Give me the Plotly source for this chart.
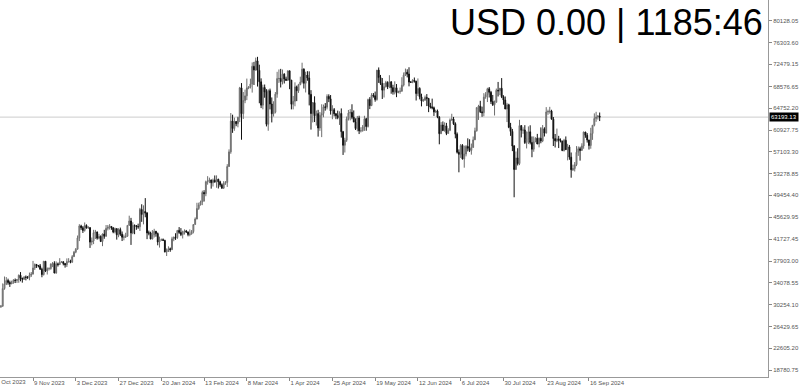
import pandas as pd
import plotly.graph_objects as go

start_date = "2023-10-21"
first_open = 29670

closes = [
    29910, 29990, 33090, 33900, 34500, 34150, 33900, 34090, 34540, 34500, 34650,
    35420, 34940, 34730, 35080, 35050, 35040, 35420, 35630, 36700, 37310, 37130, 37070, 36490, 35550, 37880, 36160, 36590, 36590, 37390, 37480, 35810, 37420, 37290, 37720, 37800, 37480, 37250, 37830, 37860, 37710,
    38690, 39470, 39980, 41980, 44080, 43770, 43290, 44170, 43720, 43790, 41240, 41450, 42890, 43020, 41930, 42240, 41360, 42660, 42270, 43650, 43870, 43990, 43740, 43020, 43610, 42520, 43440, 42630, 42100, 42140, 42280,
    44180, 44950, 42850, 44180, 44160, 43970, 43930, 46970, 46110, 46630, 46370, 42850, 42840, 41800, 42510, 43150, 42740, 41260, 41620, 41670, 41540, 39510, 39850, 40080, 39930, 41820, 42120, 42030, 43300, 42940, 42580,
    43080, 43190, 43010, 42580, 42660, 43090, 44330, 45300, 47150, 47770, 48290, 49960, 49740, 51830, 51940, 52160, 51660, 52120, 51780, 52280, 51840, 51300, 50730, 51570, 51730, 54520, 57090, 62500, 61200,
    62440, 62030, 63170, 68330, 63800, 66110, 66930, 68300, 68500, 69020, 72120, 71480, 73080, 71400, 69400, 65300, 68390, 67610, 61930, 67840, 65500, 63780, 64060, 67230, 69960, 69990, 69450, 70740, 69890, 69650, 71330,
    69700, 65450, 65980, 68510, 67840, 68900, 69360, 71620, 69140, 70590, 70060, 67190, 63820, 65740, 63430, 63810, 61280, 63510, 63840, 64990, 64930, 66840, 66410, 64280, 64500, 63770, 63460, 63120, 63840, 60640,
    58250, 59120, 62890, 63890, 64030, 63160, 62330, 61190, 63050, 60790, 60800, 61460, 62900, 61550, 66270, 65230, 67050, 66940, 66280, 71450, 70140, 69120, 67930, 68530, 69270, 68520, 69390, 68370, 67630, 68350, 67490,
    67710, 67750, 68800, 70570, 71080, 70760, 69340, 69310, 69650, 69510, 67320, 68240, 66750, 66010, 66190, 66640, 66490, 65150, 64960, 64830, 64100, 64250, 63180, 60280, 61800, 60860, 61670, 60320, 60880, 62680,
    62850, 62030, 60200, 57030, 56660, 58230, 55850, 56710, 58050, 57720, 57340, 57880, 59200, 60790, 64870, 65100, 64120, 63970, 66710, 67160, 68170, 67550, 65930, 65370, 65800, 67910, 67810, 68260, 66780, 66190, 64620,
    65360, 61410, 60680, 58120, 53990, 56030, 55030, 61710, 60880, 60940, 58720, 59350, 60610, 58740, 57560, 58870, 59480, 58480, 59490, 59010, 61160, 60380, 64090, 64180, 64250, 62830, 59420, 59030, 59380, 59120, 58970,
    57320, 59120, 57480, 57970, 56160, 53950, 54150, 54840, 57020, 57640, 57340, 58130, 60570, 60010, 59180, 58210, 60310, 61760, 62950, 63200, 63350, 63193.13,
]

highs = [
    30330, 30200, 33990, 35200, 35100, 34820, 34480, 34470, 34740, 34850, 34720,
    35560, 35980, 34940, 35260, 35380, 35290, 35890, 35990, 37940, 37500, 37410, 37230, 37400, 36750, 37930, 37900, 36790, 36820, 37510, 37750, 37880, 37850, 37640, 38420, 37890, 37830, 37560, 38380, 38420, 38150,
    38960, 39690, 40200, 42400, 44390, 44290, 44050, 44690, 44360, 44050, 43820, 42050, 43400, 43390, 43090, 42700, 42420, 42750, 43400, 44240, 44250, 44400, 43990, 43900, 43780, 43600, 43680, 43790, 43110, 42580, 42880,
    44180, 45880, 45500, 44730, 44340, 44200, 44480, 47250, 47890, 47700, 48970, 46500, 43260, 43070, 43350, 43580, 43200, 42930, 42200, 41870, 41880, 41650, 40130, 40500, 40280, 42180, 42200, 42800, 43300, 43880, 43700,
    43250, 43480, 43380, 43100, 43480, 43360, 44370, 45580, 48150, 48170, 48530, 50280, 50360, 52040, 52820, 52570, 52200, 52400, 52950, 52960, 52370, 52020, 51540, 51950, 51950, 54930, 57530, 63910, 63620,
    63100, 62450, 63240, 68500, 69170, 67600, 68030, 69960, 68600, 69950, 72800, 72890, 73650, 73780, 72400, 70000, 68890, 68920, 68100, 68070, 68200, 66650, 65980, 67600, 71150, 71560, 71670, 71550, 70900, 70300, 71330,
    71340, 69670, 66910, 69300, 68730, 69040, 70300, 72750, 71760, 71170, 71260, 71230, 67930, 65840, 66850, 64350, 64470, 64100, 65450, 65400, 65660, 67200, 67200, 67070, 65280, 64790, 63920, 64330, 64210, 64720,
    60770, 59570, 63290, 64450, 64610, 65450, 64370, 62980, 63400, 63440, 61410, 61800, 63430, 63070, 66440, 66700, 67400, 67420, 67680, 71450, 71920, 70600, 70060, 69170, 69560, 69490, 70550, 69500, 68880, 69480, 69000,
    67840, 68380, 70200, 71040, 71720, 71590, 71950, 69520, 69850, 70150, 69560, 69990, 68430, 67310, 66410, 66980, 67240, 66480, 65700, 66440, 65050, 64510, 64520, 63360, 62320, 62440, 62280, 62180, 61240, 62960,
    63780, 63230, 62280, 60500, 57520, 58470, 58450, 58180, 58280, 59470, 59300, 58550, 59790, 61340, 64870, 65350, 66060, 65030, 67400, 67580, 68350, 68480, 67800, 67090, 66100, 68210, 69370, 68310, 70050, 67040, 66820,
    65700, 65540, 62180, 61120, 58280, 57150, 57730, 62720, 61720, 61420, 61780, 60680, 61560, 61760, 59800, 59800, 59650, 60250, 59600, 61390, 61800, 61410, 64950, 64500, 65000, 64480, 63210, 60230, 61180, 59900, 59450,
    59050, 59380, 59800, 58500, 58300, 56980, 54840, 55300, 58100, 58040, 57990, 58600, 60650, 60610, 60390, 59210, 61320, 61790, 63850, 64130, 63560, 64000,
]

lows = [
    29470, 29680, 29880, 32880, 33700, 33760, 33370, 33880, 33940, 34050, 34070,
    34100, 34360, 34120, 34590, 34520, 34770, 34540, 35120, 35550, 36350, 36710, 36790, 36350, 35070, 35370, 35980, 35550, 36270, 36390, 36850, 35770, 35700, 36950, 37270, 37610, 37160, 36760, 36870, 37620, 37520,
    37630, 38650, 39290, 39970, 41420, 43390, 42850, 43080, 43620, 43580, 40220, 40680, 40890, 41790, 41670, 41730, 41250, 40530, 41830, 42210, 43300, 43440, 43400, 42800, 42770, 41680, 42100, 42330, 41430, 41560, 41970,
    42190, 44150, 40750, 42630, 42630, 43400, 43580, 43200, 44800, 44360, 45600, 41760, 42440, 41720, 41720, 42050, 42190, 40680, 40280, 41450, 41520, 39450, 38800, 39500, 39540, 39830, 41400, 41630, 41810, 42690, 42300,
    41880, 42570, 42880, 42260, 42270, 42570, 42780, 44330, 45250, 46900, 47680, 47730, 48370, 49300, 51330, 51600, 50630, 51010, 51710, 50790, 50660, 50950, 50580, 50580, 51300, 50930, 54460, 56760, 60430,
    60800, 61600, 61400, 62320, 59220, 62870, 65640, 66180, 68100, 68220, 67500, 68840, 71340, 68560, 65630, 64780, 64560, 66600, 61560, 60800, 64550, 62260, 63290, 63850, 66600, 69200, 68400, 68930, 69100, 69560, 69570,
    68100, 64550, 64550, 65100, 66000, 67450, 68800, 69100, 68220, 67520, 69580, 65250, 61000, 62260, 62330, 61710, 59770, 60780, 59680, 63170, 64330, 64550, 65830, 63640, 62820, 63330, 62830, 62820, 61820, 59590,
    56550, 56980, 58850, 62600, 62620, 62820, 62320, 60930, 60690, 60220, 60500, 60650, 60780, 60800, 61370, 64600, 65120, 66620, 65900, 66080, 69200, 68850, 66380, 66640, 68400, 68120, 68280, 67300, 67140, 67180, 66700,
    67390, 67300, 67650, 68570, 70410, 70170, 68600, 69220, 69150, 69250, 66110, 66910, 66310, 65080, 65890, 66040, 65130, 64070, 64700, 64560, 63400, 63960, 63000, 58420, 60270, 60720, 60630, 60030, 60370, 60730,
    62550, 61820, 59470, 56800, 53500, 56030, 55750, 54310, 56300, 57170, 57060, 56600, 57770, 59240, 60650, 62700, 63920, 63250, 63330, 66420, 65840, 66640, 65500, 65150, 63480, 65750, 66820, 67060, 66530, 65380, 64600,
    62320, 61250, 59900, 57220, 49120, 53970, 54700, 54760, 59630, 60270, 58480, 57690, 58460, 58410, 56150, 57110, 58800, 58450, 57880, 58600, 58800, 59790, 60360, 63600, 63800, 62800, 58120, 57860, 58790, 57760, 58750,
    57220, 57150, 57420, 55600, 55700, 52550, 53740, 53650, 54590, 56390, 55550, 57330, 57640, 59560, 58720, 57500, 57640, 59200, 61570, 62370, 62760, 62500,
]

y_tick_values = [80128.05, 76303.60, 72479.15, 68576.65, 64752.20, 60927.75, 57103.30,
                 53278.85, 49454.40, 45629.95, 41727.45, 37903.00, 34078.55, 30254.10,
                 26429.65, 22605.20, 18780.75]
x_tick_dates = ["2023-11-09", "2023-12-03", "2023-12-27", "2024-01-20", "2024-02-13",
                "2024-03-08", "2024-04-01", "2024-04-25", "2024-05-19", "2024-06-12",
                "2024-07-06", "2024-07-30", "2024-08-23", "2024-09-16"]
x_tick_labels = ["9 Nov 2023", "3 Dec 2023", "27 Dec 2023", "20 Jan 2024", "13 Feb 2024",
                 "8 Mar 2024", "1 Apr 2024", "25 Apr 2024", "19 May 2024", "12 Jun 2024",
                 "6 Jul 2024", "30 Jul 2024", "23 Aug 2024", "16 Sep 2024"]
first_tick_date = "2023-10-16"
first_tick_label = "16 Oct 2023"
title_text = "USD 0.00 | 1185:46"

assert len(closes) == len(highs) == len(lows)
opens = [first_open] + closes[:-1]
dates = pd.date_range(start_date, periods=len(closes), freq="D")
highs_c = [max(h, o, c) for h, o, c in zip(highs, opens, closes)]
lows_c = [min(l, o, c) for l, o, c in zip(lows, opens, closes)]

x_range = [pd.Timestamp("2023-10-21 11:30"), pd.Timestamp("2024-12-25 11:00")]
y_range = [17551, 83763]
last_price = closes[-1]

fig = go.Figure(go.Candlestick(
    x=dates, open=opens, high=highs_c, low=lows_c, close=closes,
    increasing=dict(line=dict(color="#6e6e6e", width=1), fillcolor="#a8a8a8"),
    decreasing=dict(line=dict(color="#111111", width=1), fillcolor="#111111"),
    whiskerwidth=0, hoverinfo="skip",
))

axis_font = dict(family="Liberation Sans, Arial, sans-serif", size=6, color="#555555")

fig.update_layout(
    width=800, height=388,
    margin=dict(l=0, r=32, t=0, b=11),
    paper_bgcolor="white", plot_bgcolor="white",
    showlegend=False,
    xaxis=dict(
        type="date", range=x_range, rangeslider=dict(visible=False), automargin=False,
        showgrid=False, zeroline=False, showline=True, linecolor="#999999", linewidth=1,
        ticks="outside", ticklen=3, tickcolor="#888888", tickangle=0,
        tickmode="array", tickvals=x_tick_dates, ticktext=x_tick_labels,
        ticklabelposition="outside right", tickfont=axis_font,
    ),
    yaxis=dict(
        side="right", range=y_range, automargin=False,
        showgrid=False, zeroline=False, showline=True, linecolor="#999999", linewidth=1,
        ticks="outside", ticklen=3, tickcolor="#888888",
        tickmode="array", tickvals=y_tick_values,
        ticktext=[f"{v:.2f}" for v in y_tick_values], tickfont=axis_font,
    ),
)

fig.add_shape(type="line", xref="paper", x0=0, x1=1, yref="y", y0=last_price, y1=last_price,
              line=dict(color="#cccccc", width=1), layer="below")

fig.add_annotation(xref="paper", x=1, xanchor="left", yref="y", y=last_price, yanchor="middle",
                   text=f"{last_price:.2f}", showarrow=False, bgcolor="#000000", borderpad=1,
                   xshift=1, font=dict(family="Liberation Sans, Arial, sans-serif", size=6, color="white"))

span = (x_range[1] - x_range[0])
fx = (pd.Timestamp(first_tick_date) - x_range[0]) / span
fig.add_annotation(xref="paper", x=fx, xanchor="left", yref="paper", y=0, yanchor="top",
                   yshift=0, xshift=1, text=first_tick_label, showarrow=False,
                   font=axis_font)

fig.add_annotation(xref="paper", x=765 / 768, xanchor="right", yref="paper", y=1.0, yanchor="top",
                   text=title_text, showarrow=False,
                   font=dict(family="Liberation Sans, Arial, sans-serif", size=36, color="#000000"))

fig.write_html("out.html")
